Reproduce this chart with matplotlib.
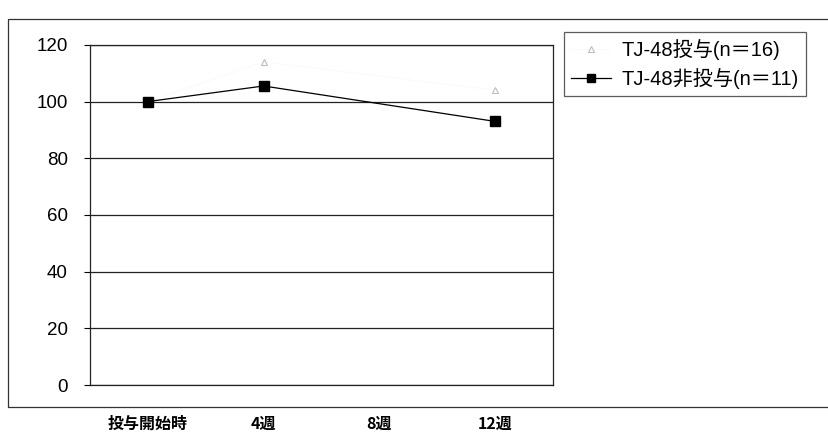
import matplotlib.pyplot as plt
from matplotlib.patches import Rectangle
import numpy as np

plt.rcParams['font.family'] = ['Liberation Sans', 'Noto Sans CJK JP', 'DejaVu Sans']

categories = ['投与開始時', '4週', '8週', '12週']
tj48_given = [100, 114, np.nan, 104]      # faint series, n=16
tj48_not_given = [100, 105.5, np.nan, 93]  # n=11
labels = ['TJ-48投与(n＝16)', 'TJ-48非投与(n＝11)']
yticks = [0, 20, 40, 60, 80, 100, 120]

fig = plt.figure(figsize=(8.29, 4.40), dpi=100)
ax = fig.add_axes([0.1086, 0.1250, 0.5584, 0.7730])

x = np.arange(len(categories))

def valid(vals):
    v = np.array(vals, dtype=float)
    m = ~np.isnan(v)
    return x[m], v[m]

x1, y1 = valid(tj48_given)
x2, y2 = valid(tj48_not_given)

ax.plot(x1, y1, color='#f8f8f8', linewidth=0.5, marker='^', markersize=5,
        markerfacecolor='none', markeredgecolor='#bdbdbd', markeredgewidth=0.8,
        label=labels[0], zorder=3)
ax.plot(x2, y2, color='black', linewidth=0.9, marker='s', markersize=7,
        markerfacecolor='black', markeredgecolor='black', label=labels[1], zorder=4)

ax.set_xlim(-0.5, len(categories) - 0.5)
ax.set_ylim(0, 120)
ax.set_yticks(yticks)
ax.set_yticklabels([str(t) for t in yticks], fontsize=13.5)
ax.set_xticks(x)
ax.set_xticklabels(categories, fontsize=11.5, fontweight='bold',
                   family=['Noto Sans CJK JP', 'DejaVu Sans'])
ax.tick_params(axis='x', length=0, pad=22)
ax.tick_params(axis='y', length=4, width=0.8, direction='out', pad=12)
ax.yaxis.grid(True, color='#222222', linewidth=0.9)
ax.set_axisbelow(True)
for s in ax.spines.values():
    s.set_color('#222222')
    s.set_linewidth(0.9)

# outer chart frame
fig.patches.append(Rectangle((0.010, 0.075), 1.2, 0.882, transform=fig.transFigure,
                             fill=False, edgecolor='#333333', linewidth=0.9))

leg = fig.legend(loc='upper left', bbox_to_anchor=(0.668, 0.95),
                 frameon=True, fancybox=False, edgecolor='#333333',
                 handlelength=2.0, handletextpad=0.5, borderpad=0.35,
                 labelspacing=0.4, markerscale=0.8,
                 prop={'family': ['Liberation Sans', 'Noto Sans CJK JP'], 'size': 14.5})
leg.get_frame().set_linewidth(0.9)

fig.savefig('out.png', dpi=100)
